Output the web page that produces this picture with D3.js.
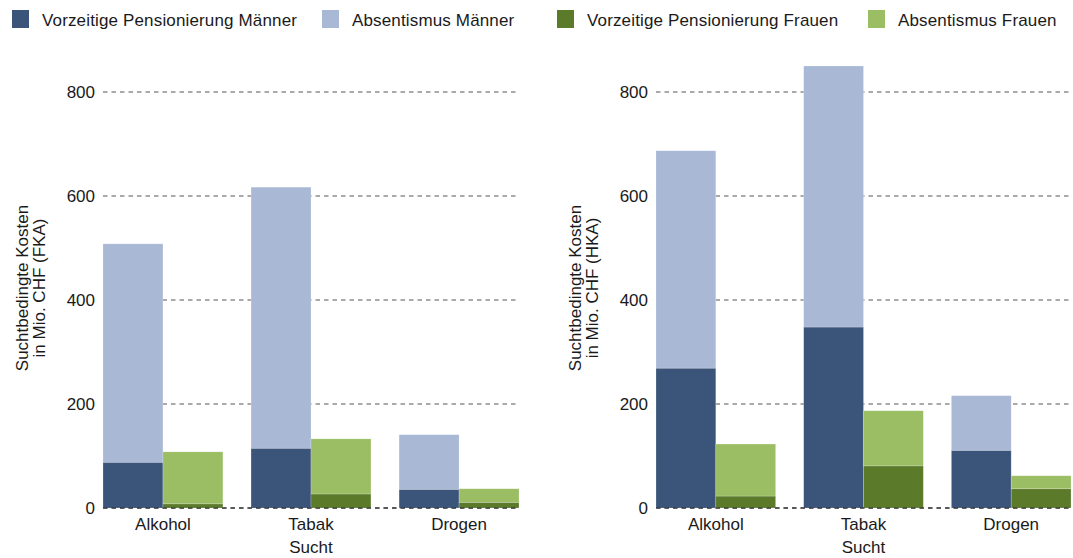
<!DOCTYPE html>
<html lang="de">
<head>
<meta charset="UTF-8">
<title>Suchtbedingte Kosten</title>
<style>
  body { margin: 0; background: #fff; }
  svg text { font-family: "Liberation Sans", Arial, sans-serif; fill: #1a1a1a; }
</style>
</head>
<body>
<svg id="chart" width="1073" height="558"></svg>

<script src="https://cdn.jsdelivr.net/npm/d3@7/dist/d3.min.js"></script>
<script>

// categories and series
const categories = ["Alkohol", "Tabak", "Drogen"]
const yTicks = [0, 200, 400, 600, 800]

// FKA (left panel), in Mio. CHF
const fkaPensionMaenner = [88, 115, 36]
const fkaAbsentMaenner  = [420, 502, 105]
const fkaPensionFrauen  = [8, 27, 11]
const fkaAbsentFrauen   = [100, 106, 26]

// HKA (right panel)
const hkaPensionMaenner = [269, 348, 111]
const hkaAbsentMaenner  = [418, 502, 105]
const hkaPensionFrauen  = [23, 81, 37]
const hkaAbsentFrauen   = [100, 106, 25]

const legendLabels = ["Vorzeitige Pensionierung Männer", "Absentismus Männer",
                      "Vorzeitige Pensionierung Frauen", "Absentismus Frauen"]
const colors = ["#3b5479", "#a8b8d5", "#5b7a2a", "#9bbd63"]

const fontSize = 17

let svg = d3.select("#chart")

// legend
let legendX = [12, 322, 557, 868]
legendLabels.forEach((lab, i) => {
    svg.append("rect")
        .attr("x", legendX[i]).attr("y", 10)
        .attr("width", 17).attr("height", 18)
        .attr("fill", colors[i])
    svg.append("text")
        .attr("x", legendX[i] + 30).attr("y", 26)
        .attr("font-size", fontSize)
        .attr("letter-spacing", 0.15)
        .text(lab)
})

function drawPanel(left, right, label, penM, absM, penF, absF) {

    let y = d3.scaleLinear().domain([0, 800]).range([508, 92])

    let x = d3.scaleBand()
        .domain(categories)
        .range([left, right])
        .paddingInner(0.19)
        .paddingOuter(0)

    let sub = d3.scaleBand()
        .domain(["M", "F"])
        .range([0, x.bandwidth()])

    let g = svg.append("g")

    // grid lines
    g.selectAll("line.grid")
        .data(yTicks)
        .enter()
        .append("line")
        .attr("x1", left).attr("x2", right)
        .attr("y1", d => y(d)).attr("y2", d => y(d))
        .attr("stroke", d => d == 0 ? "#222" : "#555")
        .attr("stroke-width", 1)
        .attr("stroke-dasharray", "4.5,4")

    // y tick labels
    g.selectAll("text.ytick")
        .data(yTicks)
        .enter()
        .append("text")
        .attr("x", left - 8)
        .attr("y", d => y(d))
        .attr("dy", "0.35em")
        .attr("text-anchor", "end")
        .attr("font-size", fontSize)
        .text(d => d)

    // stacked bars: men and women side by side
    let rows = categories.map((c, i) => ({
        cat: c,
        parts: [
            { s: "M", y0: 0, y1: penM[i], color: colors[0] },
            { s: "M", y0: penM[i], y1: penM[i] + absM[i], color: colors[1] },
            { s: "F", y0: 0, y1: penF[i], color: colors[2] },
            { s: "F", y0: penF[i], y1: penF[i] + absF[i], color: colors[3] }
        ]
    }))

    g.selectAll("g.cat")
        .data(rows)
        .enter()
        .append("g")
        .attr("transform", d => "translate(" + x(d.cat) + ",0)")
        .selectAll("rect")
        .data(d => d.parts)
        .enter()
        .append("rect")
        .attr("x", d => sub(d.s))
        .attr("width", sub.bandwidth())
        .attr("y", d => y(d.y1))
        .attr("height", d => y(d.y0) - y(d.y1))
        .attr("fill", d => d.color)
        .attr("stroke", "#fff")
        .attr("stroke-opacity", 0.35)
        .attr("stroke-width", 0.6)

    // redraw zero line on top
    g.append("line")
        .attr("x1", left).attr("x2", right)
        .attr("y1", y(0)).attr("y2", y(0))
        .attr("stroke", "#222")
        .attr("stroke-dasharray", "4.5,4")

    // x tick labels
    g.selectAll("text.xtick")
        .data(categories)
        .enter()
        .append("text")
        .attr("x", d => x(d) + x.bandwidth() / 2)
        .attr("y", 530)
        .attr("text-anchor", "middle")
        .attr("font-size", fontSize)
        .text(d => d)

    g.append("text")
        .attr("x", (left + right) / 2)
        .attr("y", 553)
        .attr("text-anchor", "middle")
        .attr("font-size", fontSize)
        .text("Sucht")

    // y axis title, two lines
    let t = g.append("text")
        .attr("transform", "translate(" + (left - 75) + ",288) rotate(-90)")
        .attr("text-anchor", "middle")
        .attr("font-size", fontSize)
    t.append("tspan").attr("x", 0).attr("dy", 0).text("Suchtbedingte Kosten")
    t.append("tspan").attr("x", 0).attr("dy", 17).text("in Mio. CHF (" + label + ")")
}

drawPanel(103, 519, "FKA", fkaPensionMaenner, fkaAbsentMaenner, fkaPensionFrauen, fkaAbsentFrauen)
drawPanel(656, 1071, "HKA", hkaPensionMaenner, hkaAbsentMaenner, hkaPensionFrauen, hkaAbsentFrauen)

</script>
</body>
</html>
